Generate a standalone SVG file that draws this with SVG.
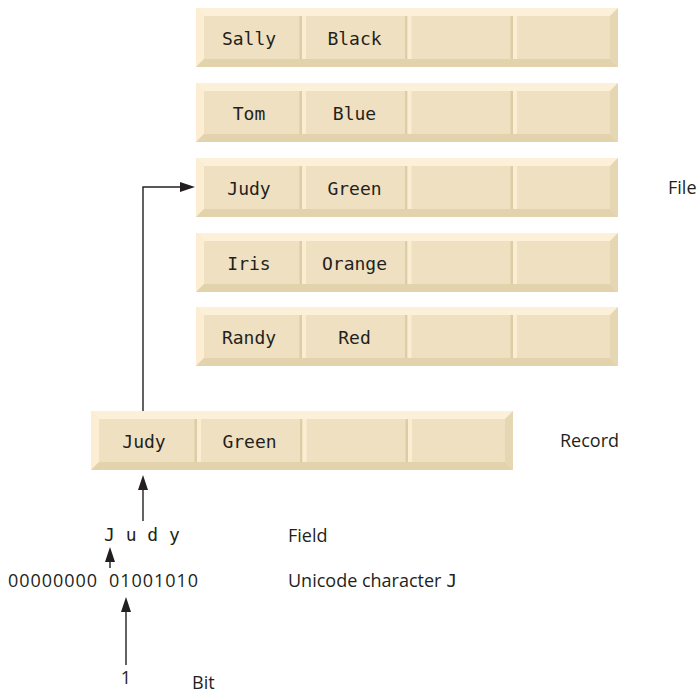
<svg xmlns="http://www.w3.org/2000/svg" xmlns:xlink="http://www.w3.org/1999/xlink" width="697" height="695" viewBox="0 0 697 695">
  <style>
    .mono { font-family: "DejaVu Sans Mono", "Liberation Mono", monospace; font-size: 18px; fill: #231f20; }
    .cell { text-anchor: middle; }
    .lbl { font-family: "Open Sans", "Noto Sans", "Liberation Sans", sans-serif; font-size: 18px; fill: #231f20; }
    .conn { fill: none; stroke: #231f20; stroke-width: 1.4; }
  </style>
  <defs>
    <marker id="ah" markerUnits="userSpaceOnUse" markerWidth="15" markerHeight="10" refX="0" refY="5" orient="auto" overflow="visible">
      <path d="M0,0 L15,5 L0,10 z" fill="#231f20"/>
    </marker>
    <g id="rowShape">
      <rect x="0" y="0" width="422" height="59" fill="#efe0c1"/>
      <polygon points="0,0 422,0 414,8 8,8" fill="#fdf0d8"/>
      <polygon points="0,0 8,8 8,51 0,59" fill="#fcedd3"/>
      <polygon points="0,59 8,51 414,51 422,59" fill="#e3d3ac"/>
      <polygon points="422,0 422,59 414,51 414,8" fill="#e6d7b4"/>
      <rect x="103.5" y="8" width="2.5" height="43" fill="#ddcda6"/>
      <rect x="106" y="8" width="4" height="43" fill="#fbedd2"/>
      <rect x="209" y="8" width="2.5" height="43" fill="#ddcda6"/>
      <rect x="211.5" y="8" width="4" height="43" fill="#fbedd2"/>
      <rect x="314.5" y="8" width="2.5" height="43" fill="#ddcda6"/>
      <rect x="317" y="8" width="4" height="43" fill="#fbedd2"/>
    </g>
  </defs>

  <g id="row-sally">
    <use xlink:href="#rowShape" href="#rowShape" x="196" y="8"/>
    <text class="mono cell" x="249" y="45">Sally</text>
    <text class="mono cell" x="354.5" y="45">Black</text>
  </g>
  <g id="row-tom">
    <use xlink:href="#rowShape" href="#rowShape" x="196" y="83"/>
    <text class="mono cell" x="249" y="120">Tom</text>
    <text class="mono cell" x="354.5" y="120">Blue</text>
  </g>
  <g id="row-judy">
    <use xlink:href="#rowShape" href="#rowShape" x="196" y="158"/>
    <text class="mono cell" x="249" y="195">Judy</text>
    <text class="mono cell" x="354.5" y="195">Green</text>
  </g>
  <g id="row-iris">
    <use xlink:href="#rowShape" href="#rowShape" x="196" y="233"/>
    <text class="mono cell" x="249" y="270">Iris</text>
    <text class="mono cell" x="354.5" y="270">Orange</text>
  </g>
  <g id="row-randy">
    <use xlink:href="#rowShape" href="#rowShape" x="196" y="307"/>
    <text class="mono cell" x="249" y="344">Randy</text>
    <text class="mono cell" x="354.5" y="344">Red</text>
  </g>
  <g id="label-file">
    <text class="lbl" x="668" y="194">File</text>
  </g>

  <g id="record">
    <use xlink:href="#rowShape" href="#rowShape" x="91" y="411"/>
    <text class="mono cell" x="144" y="448">Judy</text>
    <text class="mono cell" x="249.5" y="448">Green</text>
  </g>
  <g id="label-record">
    <text class="lbl" x="560" y="447">Record</text>
  </g>

  <g id="field">
    <text class="mono" x="104" y="541" xml:space="preserve">J u d y</text>
  </g>
  <g id="label-field">
    <text class="lbl" x="288" y="542">Field</text>
  </g>

  <g id="character">
    <text class="lbl" x="8" y="587" font-size="19" textLength="89" lengthAdjust="spacing">00000000</text>
    <text class="lbl" x="109" y="587" font-size="19" textLength="89" lengthAdjust="spacing">01001010</text>
  </g>
  <g id="label-character">
    <text class="lbl" x="288" y="587">Unicode character <tspan class="mono">J</tspan></text>
  </g>

  <g id="bit">
    <text class="lbl cell" x="126" y="684" font-size="19">1</text>
  </g>
  <g id="label-bit">
    <text class="lbl" x="192" y="689">Bit</text>
  </g>

  <g id="connectors">
    <path class="conn" d="M143,411 V187 H180" marker-end="url(#ah)"/>
    <path class="conn" d="M143,521 V490" marker-end="url(#ah)"/>
    <path class="conn" d="M110,568 V562" marker-end="url(#ah)"/>
    <path class="conn" d="M126,665 V612" marker-end="url(#ah)"/>
  </g>
</svg>
